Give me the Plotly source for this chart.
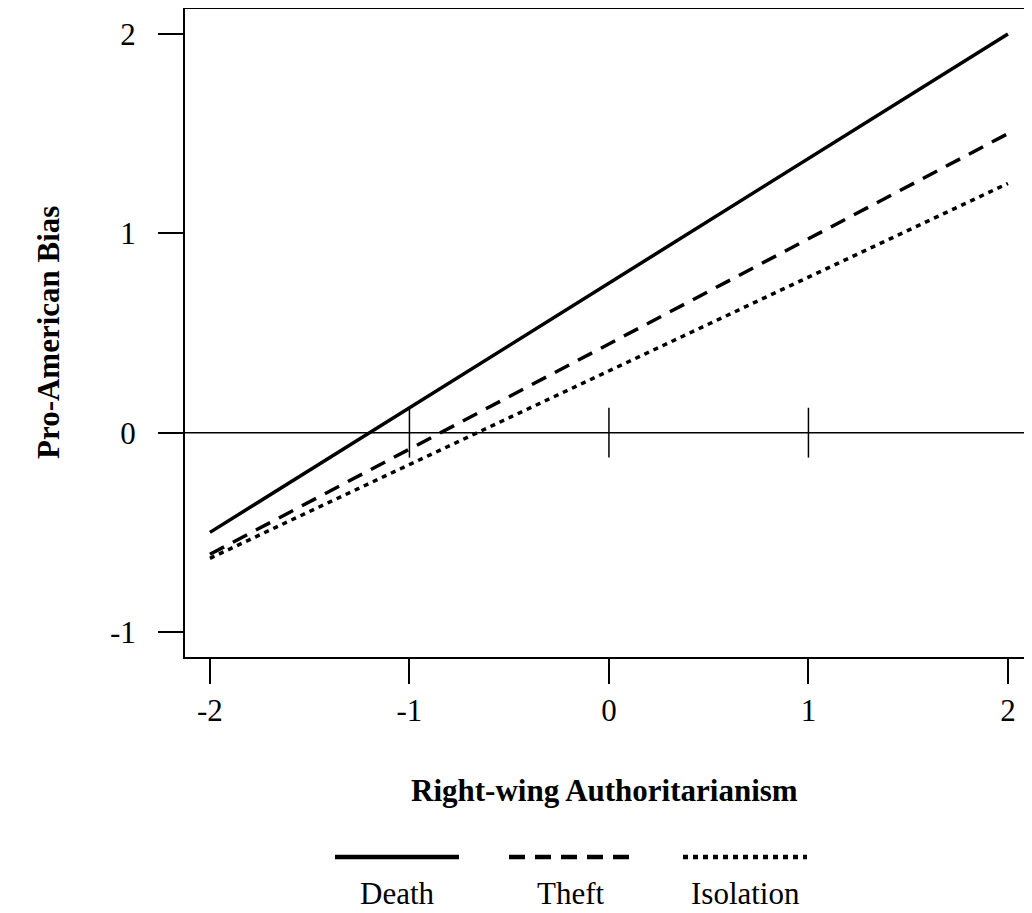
import plotly.graph_objects as go

# Data
rwa_x = [-2, 2]
groups = ["Death", "Theft", "Isolation"]
death_y = [-0.50, 2.00]
theft_y = [-0.61, 1.50]
isolation_y = [-0.63, 1.25]
series = [death_y, theft_y, isolation_y]
dash_styles = ["solid", "16px,10px", "5px,5px"]
x_ticks = [-2, -1, 0, 1, 2]
y_ticks = [-1, 0, 1, 2]
zero_marks = [-1, 0, 1]

FONT = "Liberation Serif"
FS = 31
W, H = 1032, 913
OFF = 8  # page body margin
ML, MR, MT, MB = 177, 0, 1, 264
PW = W - ML - MR
PH = H - MT - MB
UNIT = 199.5
X0 = -2.125
X1 = X0 + PW / UNIT

def px_x(p):  # page pixel -> paper
    return (p - OFF - ML) / PW

def px_y(p):
    return (H - MB - (p - OFF)) / PH

fig = go.Figure()

fig.add_trace(go.Scatter(x=[X0, X1], y=[0, 0], mode="lines",
                         line=dict(color="black", width=1.5),
                         showlegend=False, hoverinfo="skip"))
for m in zero_marks:
    fig.add_trace(go.Scatter(x=[m, m], y=[-0.125, 0.125], mode="lines",
                             line=dict(color="black", width=1.5),
                             showlegend=False, hoverinfo="skip"))

for name, ys, d in zip(groups, series, dash_styles):
    fig.add_trace(go.Scatter(x=rwa_x, y=ys, mode="lines", name=name,
                             line=dict(color="black", width=3.5, dash=d),
                             showlegend=False))

fig.update_xaxes(range=[X0, X1], tickvals=x_ticks,
                 ticktext=[str(v) for v in x_ticks],
                 showline=True, linecolor="black", linewidth=2, mirror=True,
                 ticks="outside", ticklen=25, tickwidth=1.5, tickcolor="black",
                 showgrid=False, zeroline=False,
                 tickfont=dict(family=FONT, size=FS, color="black"),
                 ticklabelstandoff=0)
fig.update_yaxes(range=[-1.125, 2.125], tickvals=y_ticks,
                 ticktext=[str(v) for v in y_ticks],
                 showline=True, linecolor="black", linewidth=2, mirror=False,
                 ticks="outside", ticklen=25, tickwidth=1.5, tickcolor="black",
                 showgrid=False, zeroline=False,
                 tickfont=dict(family=FONT, size=FS, color="black"),
                 ticklabelstandoff=16)

annotations = [
    dict(text="<b>Right-wing Authoritarianism</b>", x=px_x(604), y=px_y(790),
         xref="paper", yref="paper", showarrow=False,
         font=dict(family=FONT, size=FS, color="black"),
         xanchor="center", yanchor="middle"),
    dict(text="<b>Pro-American Bias</b>", x=px_x(48), y=px_y(333),
         xref="paper", yref="paper", showarrow=False, textangle=-90,
         font=dict(family=FONT, size=FS, color="black"),
         xanchor="center", yanchor="middle"),
]

shapes = []
legend_centers = [397, 571, 745]
half = 62
for name, d, c in zip(groups, dash_styles, legend_centers):
    shapes.append(dict(type="line", xref="paper", yref="paper",
                       x0=px_x(c - half), x1=px_x(c + half),
                       y0=px_y(857), y1=px_y(857),
                       line=dict(color="black", width=4.5, dash=d)))
    annotations.append(dict(text=name, x=px_x(c), y=px_y(893),
                            xref="paper", yref="paper", showarrow=False,
                            font=dict(family=FONT, size=FS, color="black"),
                            xanchor="center", yanchor="middle"))

fig.update_layout(width=W, height=H,
                  margin=dict(l=ML, r=MR, t=MT, b=MB, pad=0),
                  paper_bgcolor="white", plot_bgcolor="white",
                  annotations=annotations, shapes=shapes,
                  showlegend=False)

fig.write_html("out.html")
